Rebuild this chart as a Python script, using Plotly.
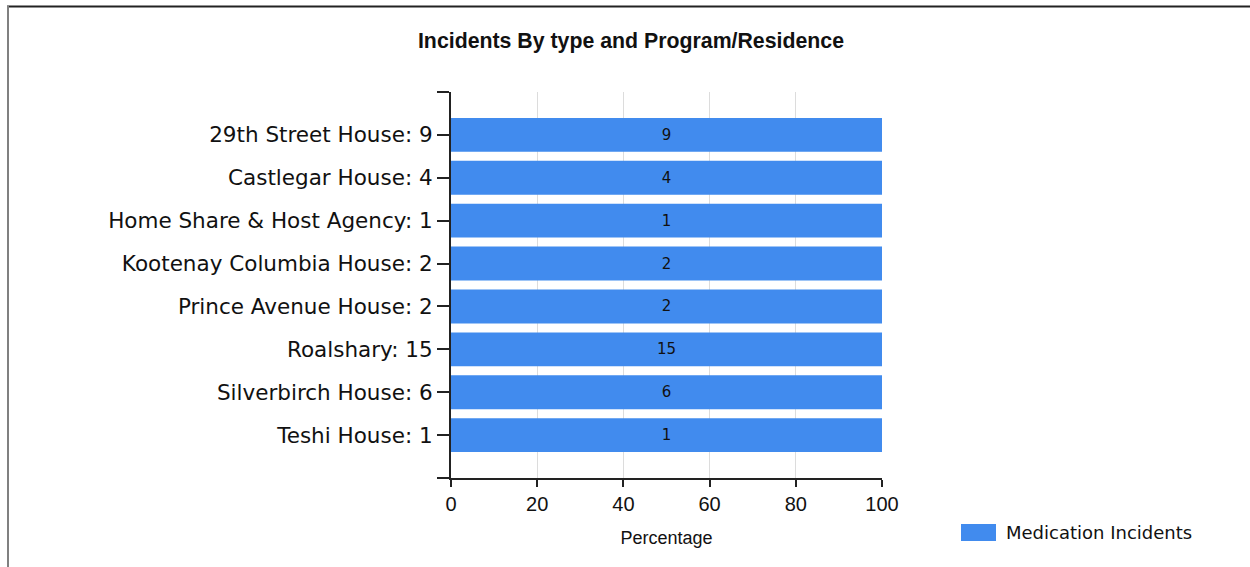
import plotly.graph_objects as go

categories = ["29th Street House", "Castlegar House", "Home Share & Host Agency",
              "Kootenay Columbia House", "Prince Avenue House", "Roalshary",
              "Silverbirch House", "Teshi House"]
counts = [9, 4, 1, 2, 2, 15, 6, 1]
percentages = [100, 100, 100, 100, 100, 100, 100, 100]
series_name = "Medication Incidents"
x_ticks = [0, 20, 40, 60, 80, 100]

labels = [f"{c}: {n}" for c, n in zip(categories, counts)]
ypos = list(range(len(categories)))

BAR = "#418bee"
L, R, T, B = 451, 368, 92, 89
PW, PH = 1250 - L - R, 567 - T - B


def px(x):
    return (x - L) / PW


def py(y):
    return (567 - B - y) / PH


fig = go.Figure()
fig.add_trace(go.Bar(
    x=percentages, y=ypos, orientation="h", name=series_name,
    marker=dict(color=BAR, line=dict(width=0)),
    text=[str(n) for n in counts], textposition="inside", insidetextanchor="middle",
    textfont=dict(family="DejaVu Sans", size=15, color="#111"),
    width=0.79, showlegend=False, hoverinfo="skip",
))

fig.update_layout(
    width=1250, height=567,
    paper_bgcolor="white", plot_bgcolor="white",
    margin=dict(l=L, r=R, t=T, b=B),
    title=dict(text="<b>Incidents By type and Program/Residence</b>", x=631 / 1250, xanchor="center",
               y=1 - 41 / 567, yanchor="middle",
               font=dict(family="Liberation Sans", size=21.3, color="#111")),
    xaxis=dict(range=[0, 100], tickvals=x_ticks, showgrid=True, gridcolor="#dcdcdc", gridwidth=1,
               showline=True, linecolor="#222", linewidth=2, ticks="outside", ticklen=7,
               tickcolor="#222", tickwidth=1.5, zeroline=False,
               tickfont=dict(family="Liberation Sans", size=20, color="#111"),
               title=dict(text="Percentage", font=dict(family="Liberation Sans", size=18, color="#111"),
                          standoff=17)),
    yaxis=dict(range=[8, -1], tickvals=[-1] + ypos + [8], ticktext=[""] + labels + [""],
               showline=True, linecolor="#222", linewidth=2, ticks="outside", ticklen=12,
               tickcolor="#222", tickwidth=1.5, showgrid=False, zeroline=False,
               tickfont=dict(family="DejaVu Sans", size=21.5, color="#111")),
    shapes=[
        dict(type="line", xref="paper", yref="paper", x0=px(7), x1=px(1252),
             y0=py(6.5), y1=py(6.5), line=dict(color="#222", width=2)),
        dict(type="line", xref="paper", yref="paper", x0=px(8), x1=px(8),
             y0=py(6), y1=py(570), line=dict(color="#808080", width=2)),
        dict(type="rect", xref="paper", yref="paper", x0=px(961), x1=px(996),
             y0=py(541), y1=py(524), fillcolor=BAR, line=dict(width=0)),
    ],
    annotations=[
        dict(text=series_name, xref="paper", yref="paper", x=px(1004), y=py(532),
             xanchor="left", yanchor="middle", showarrow=False,
             font=dict(family="DejaVu Sans", size=18, color="#111")),
    ],
)
fig.write_html("out.html")
